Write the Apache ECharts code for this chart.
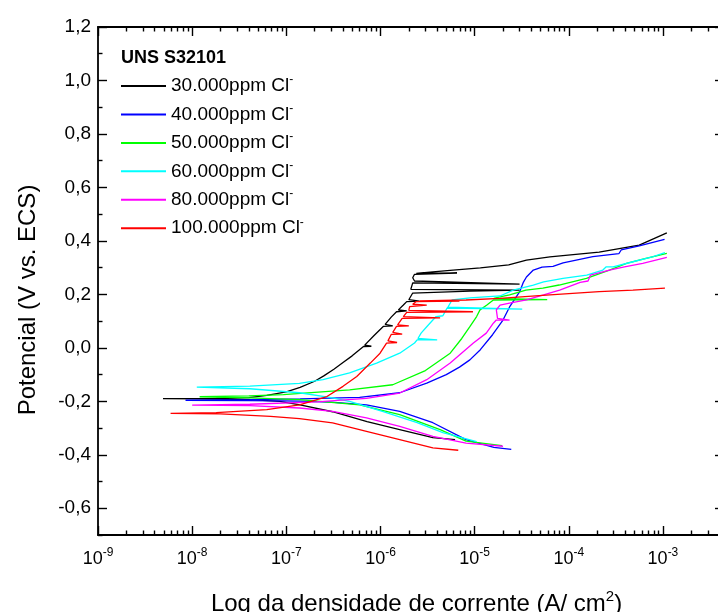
<!DOCTYPE html>
<html>
<head>
<meta charset="utf-8">
<script src="https://cdn.jsdelivr.net/npm/echarts@6/dist/echarts.min.js"></script>
<style>html,body{margin:0;padding:0;background:#fff}#chart{width:718px;height:612px}</style>
</head>
<body>
<div id="chart"></div>
<script>
// ---------- data (current density A/cm2, potential V vs ECS) ----------
const xExponents = [-9, -8, -7, -6, -5, -4, -3];
const yMajor = [-0.6, -0.4, -0.2, 0, 0.2, 0.4, 0.6, 0.8, 1.0, 1.2];
const yMinor = [-0.7, -0.5, -0.3, -0.1, 0.1, 0.3, 0.5, 0.7, 0.9, 1.1];
const legendTitle = 'UNS S32101';
const seriesNames = ['30.000ppm Cl-', '40.000ppm Cl-', '50.000ppm Cl-', '60.000ppm Cl-', '80.000ppm Cl-', '100.000ppm Cl-'];
const seriesColors = ['#000000', '#0000ff', '#00ff00', '#00ffff', '#ff00ff', '#ff0000'];

const cl30 = [[6.2e-6,-0.343],[3.6e-6,-0.336],[1.6e-6,-0.306],[7.2e-7,-0.276],[3.1e-7,-0.239],[1.4e-7,-0.213],[8.5e-8,-0.200],[4.1e-8,-0.194],[1.2e-8,-0.191],[4.9e-9,-0.190],[1.8e-8,-0.189],[4.0e-8,-0.186],[6.2e-8,-0.178],[1.0e-7,-0.165],[1.4e-7,-0.148],[2.0e-7,-0.125],[2.5e-7,-0.105],[3.2e-7,-0.080],[4.0e-7,-0.055],[5.0e-7,-0.030],[6.6e-7,0.005],[8.0e-7,0.006],[6.8e-7,0.010],[8.5e-7,0.045],[1.07e-6,0.080],[1.35e-6,0.082],[1.12e-6,0.088],[1.3e-6,0.115],[1.48e-6,0.135],[1.9e-6,0.138],[1.55e-6,0.142],[1.75e-6,0.160],[1.9e-6,0.173],[2.6e-6,0.175],[2.0e-6,0.180],[2.2e-6,0.205],[8.9e-6,0.212],[3.0e-5,0.216],[2.1e-6,0.219],[2.2e-6,0.243],[3.0e-5,0.238],[2.3e-6,0.250],[2.2e-6,0.262],[2.3e-6,0.275],[6.5e-6,0.280],[2.4e-6,0.278],[3.6e-6,0.284],[5.9e-6,0.291],[1.15e-5,0.299],[2.3e-5,0.310],[3.55e-5,0.328],[6.3e-5,0.340],[2.1e-4,0.358],[5.6e-4,0.384],[1.1e-3,0.430]];
const cl40 = [[2.45e-5,-0.380],[1.6e-5,-0.372],[8.1e-6,-0.343],[3.6e-6,-0.280],[1.6e-6,-0.238],[7.1e-7,-0.213],[3.0e-7,-0.203],[1.4e-7,-0.199],[4.1e-8,-0.197],[8.5e-9,-0.196],[4.1e-8,-0.194],[1.4e-7,-0.191],[6.0e-7,-0.185],[1.6e-6,-0.168],[3.1e-6,-0.132],[5.0e-6,-0.100],[6.9e-6,-0.072],[8.9e-6,-0.045],[1.15e-5,-0.007],[1.55e-5,0.049],[2.0e-5,0.104],[2.35e-5,0.153],[3.0e-5,0.209],[3.3e-5,0.246],[3.55e-5,0.265],[4.2e-5,0.291],[5.2e-5,0.302],[6.8e-5,0.305],[8.7e-5,0.318],[1.8e-4,0.341],[3.4e-4,0.352],[3.6e-4,0.366],[5.6e-4,0.381],[1.04e-3,0.406]];
const cl50 = [[1.95e-5,-0.366],[8.1e-6,-0.349],[4.3e-6,-0.306],[1.6e-6,-0.250],[6.0e-7,-0.213],[1.4e-7,-0.194],[4.1e-8,-0.187],[1.2e-8,-0.183],[4.0e-8,-0.180],[9.3e-8,-0.175],[4.7e-7,-0.157],[1.35e-6,-0.138],[3.0e-6,-0.085],[5.5e-6,-0.020],[7.3e-6,0.035],[8.9e-6,0.079],[1.05e-5,0.117],[1.14e-5,0.142],[1.35e-5,0.160],[1.58e-5,0.179],[5.9e-5,0.180],[1.6e-5,0.185],[1.86e-5,0.191],[2.35e-5,0.198],[3.5e-5,0.216],[5.3e-5,0.223],[7.9e-5,0.235],[1.54e-4,0.260],[2.7e-4,0.291],[4.1e-4,0.316],[6.6e-4,0.335],[1.1e-3,0.353]];
const cl60 = [[1.05e-5,-0.351],[4.6e-6,-0.317],[2.45e-6,-0.280],[1.07e-6,-0.239],[4.8e-7,-0.201],[3.1e-7,-0.187],[1.38e-7,-0.168],[4.1e-8,-0.153],[1.12e-8,-0.147],[4.1e-8,-0.143],[1.38e-7,-0.133],[2.45e-7,-0.119],[4.7e-7,-0.094],[9.1e-7,-0.057],[1.6e-6,-0.020],[2.3e-6,0.018],[2.45e-6,0.030],[4.0e-6,0.030],[2.5e-6,0.035],[2.7e-6,0.055],[3.1e-6,0.079],[3.6e-6,0.104],[3.9e-6,0.117],[4.6e-6,0.120],[5.1e-6,0.149],[3.2e-5,0.145],[5.2e-6,0.152],[5.75e-6,0.179],[8.9e-6,0.187],[1.86e-5,0.194],[2.57e-5,0.216],[4.2e-5,0.235],[5.4e-5,0.247],[8.7e-5,0.260],[1.55e-4,0.272],[2.3e-4,0.291],[2.5e-4,0.303],[2.95e-4,0.303],[4.8e-4,0.322],[7.9e-4,0.341],[1.05e-3,0.356]];
const cl80 = [[2.0e-5,-0.368],[8.1e-6,-0.356],[3.6e-6,-0.331],[1.6e-6,-0.294],[7.1e-7,-0.262],[3.1e-7,-0.238],[1.38e-7,-0.225],[4.1e-8,-0.216],[1.0e-8,-0.214],[4.1e-8,-0.211],[2.1e-7,-0.202],[7.1e-7,-0.189],[1.6e-6,-0.169],[3.1e-6,-0.119],[5.5e-6,-0.057],[9.7e-6,0.018],[1.33e-5,0.055],[1.58e-5,0.092],[1.7e-5,0.104],[2.35e-5,0.104],[1.75e-5,0.110],[1.7e-5,0.142],[1.86e-5,0.160],[2.35e-5,0.167],[3.55e-5,0.179],[5.4e-5,0.198],[8.0e-5,0.216],[1.32e-4,0.245],[1.6e-4,0.250],[1.7e-4,0.272],[2.7e-4,0.291],[3.9e-4,0.303],[6.1e-4,0.316],[1.1e-3,0.338]];
const cl100 = [[6.7e-6,-0.383],[3.6e-6,-0.374],[1.6e-6,-0.343],[7.1e-7,-0.312],[3.1e-7,-0.281],[1.38e-7,-0.265],[6.8e-8,-0.256],[2.0e-8,-0.247],[5.9e-9,-0.245],[1.8e-8,-0.242],[6.2e-8,-0.231],[1.38e-7,-0.213],[2.7e-7,-0.182],[4.0e-7,-0.144],[5.6e-7,-0.107],[7.8e-7,-0.057],[9.9e-7,-0.020],[1.16e-6,0.018],[1.5e-6,0.020],[1.2e-6,0.026],[1.3e-6,0.050],[1.7e-6,0.051],[1.35e-6,0.058],[1.48e-6,0.080],[2.0e-6,0.082],[1.52e-6,0.086],[1.7e-6,0.110],[4.3e-6,0.112],[1.75e-6,0.117],[1.9e-6,0.133],[9.6e-6,0.135],[2.0e-6,0.140],[2.04e-6,0.154],[3.1e-6,0.160],[2.2e-6,0.163],[2.4e-6,0.173],[6.9e-6,0.175],[2.6e-6,0.176],[8.1e-6,0.179],[1.86e-5,0.185],[6.3e-5,0.198],[2.1e-4,0.210],[4.8e-4,0.216],[1.05e-3,0.223]];
const seriesData = [cl30, cl40, cl50, cl60, cl80, cl100];

// ---------- axis ranges ----------
const X_MIN = 1e-9, X_MAX = 4.45e-3, Y_MIN = -0.7, Y_MAX = 1.2;

const FONT = "'Liberation Sans', Arial, sans-serif";
const xMajor = xExponents.map(e => Math.pow(10, e));
const xMinor = [];
xExponents.forEach(e => { for (let k = 2; k <= 9; k++) { const v = k * Math.pow(10, e); if (v < X_MAX) xMinor.push(v); } });

function xAxisDef(pos, ticks, len, withLine, withLabel) {
  const ax = {
    type: 'log', logBase: 10, min: X_MIN, max: X_MAX, position: pos,
    axisLine: { show: withLine, onZero: false, lineStyle: { color: '#000', width: 1.8 } },
    axisTick: { show: true, inside: true, length: len, customValues: ticks, lineStyle: { color: '#000', width: 1.4 } },
    axisLabel: { show: false },
    splitLine: { show: false }, minorTick: { show: false }, minorSplitLine: { show: false }
  };
  if (withLabel) {
    ax.axisLabel = {
      show: true, customValues: ticks, margin: 12,
      formatter: v => '{b|10}{e|' + Math.round(Math.log10(v)) + '}',
      rich: {
        b: { fontSize: 18, fontFamily: FONT, color: '#000', lineHeight: 24 },
        e: { fontSize: 12, fontFamily: FONT, color: '#000', lineHeight: 11, verticalAlign: 'top' }
      }
    };
    ax.name = 'Log da densidade de corrente (A/ cm{s|2})';
    ax.nameLocation = 'middle';
    ax.nameGap = 54;
    ax.nameTextStyle = {
      fontSize: 24, fontFamily: FONT, color: '#000', lineHeight: 30, padding: [0, 0, 0, 11],
      rich: { s: { fontSize: 15, fontFamily: FONT, color: '#000', lineHeight: 13, verticalAlign: 'top' } }
    };
  }
  return ax;
}
function yAxisDef(pos, ticks, len, withLine, withLabel) {
  const ax = {
    type: 'value', min: Y_MIN, max: Y_MAX, position: pos,
    axisLine: { show: withLine, onZero: false, lineStyle: { color: '#000', width: 1.8 } },
    axisTick: { show: true, inside: true, length: len, customValues: ticks, lineStyle: { color: '#000', width: 1.4 } },
    axisLabel: { show: false },
    splitLine: { show: false }, minorTick: { show: false }
  };
  if (withLabel) {
    ax.axisLabel = {
      show: true, customValues: ticks, margin: 7, fontSize: 19, fontFamily: FONT, color: '#000',
      formatter: v => v.toFixed(1).replace('.', ',')
    };
    ax.name = 'Potencial (V vs. ECS)';
    ax.nameLocation = 'middle';
    ax.nameGap = 58;
    ax.nameTextStyle = { fontSize: 24, fontFamily: FONT, color: '#000', padding: [0, 38, 0, 0] };
  }
  return ax;
}

const chart = echarts.init(document.getElementById('chart'), null, { renderer: 'canvas' });
chart.setOption({
  animation: false,
  backgroundColor: '#ffffff',
  title: {
    text: legendTitle, left: 121, top: 48, padding: 0,
    textStyle: { fontSize: 18, fontWeight: 'bold', fontFamily: FONT, color: '#000', lineHeight: 20 }
  },
  legend: {
    orient: 'vertical', left: 121, top: 74, padding: 0, itemGap: 4.45,
    itemWidth: 45, itemHeight: 2, icon: 'rect',
    data: seriesNames,
    formatter: name => name.replace(/-$/, '{s|-}'),
    textStyle: {
      fontSize: 19, fontFamily: FONT, color: '#000', lineHeight: 24,
      rich: { s: { fontSize: 12, fontFamily: FONT, color: '#000', lineHeight: 12, verticalAlign: 'top' } }
    }
  },
  grid: { left: 98, top: 27, width: 626, height: 508, containLabel: false, outerBoundsMode: 'none' },
  xAxis: [
    xAxisDef('bottom', xMajor, 9, true, true),
    xAxisDef('bottom', xMinor, 4.5, false, false),
    xAxisDef('top', xMajor, 9, true, false),
    xAxisDef('top', xMinor, 4.5, false, false)
  ],
  yAxis: [
    yAxisDef('left', yMajor, 9, true, true),
    yAxisDef('left', yMinor, 4.5, false, false),
    yAxisDef('right', yMajor, 9, true, false),
    yAxisDef('right', yMinor, 4.5, false, false)
  ],
  series: seriesData.map((d, i) => ({
    type: 'line', name: seriesNames[i], data: d, xAxisIndex: 0, yAxisIndex: 0,
    showSymbol: false, symbol: 'none', smooth: false,
    lineStyle: { color: seriesColors[i], width: 1.3 },
    itemStyle: { color: seriesColors[i] },
    emphasis: { disabled: true }
  }))
});
</script>
</body>
</html>
